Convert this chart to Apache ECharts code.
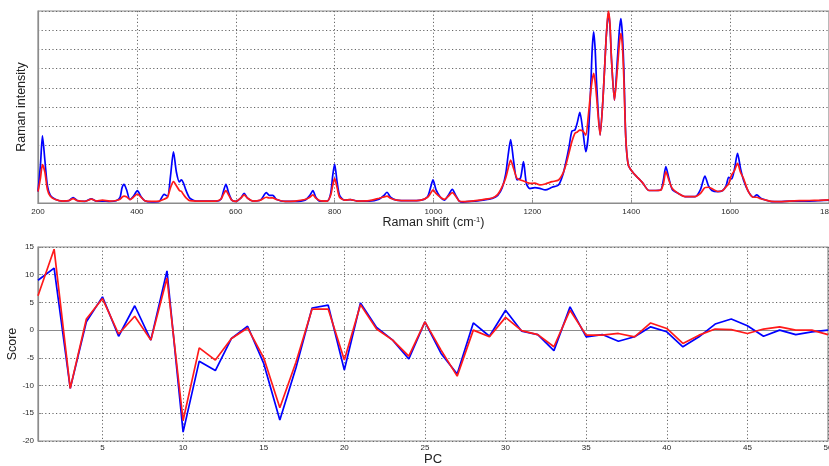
<!DOCTYPE html>
<html>
<head>
<meta charset="utf-8">
<script src="https://cdn.jsdelivr.net/npm/echarts@6/dist/echarts.min.js"></script>
<style>
html,body{margin:0;padding:0;background:#fff;}
#chart{width:829px;height:466px;}
</style>
</head>
<body>
<div id="chart"></div>
<script>
// Raman spectrum (top panel)
const ramanShift = [200,205,209,214,219,225,235,250,262,271,280,295,308,318,330,345,358,366,370,374,379,386,393,401,408,416,430,445,455,462,468,474,480,486,490,494,499,507,520,540,560,570,575,580,586,592,600,610,617,624,635,650,662,668,675,682,700,720,740,750,756,762,770,785,792,796,800,805,810,820,832,845,870,890,900,906,913,925,950,975,988,994,999,1005,1014,1022,1030,1038,1045,1052,1060,1085,1100,1119,1130,1139,1146,1151,1156,1162,1169,1176,1182,1188,1195,1205,1215,1226,1240,1253,1262,1268,1274,1280,1286,1291,1296,1302,1308,1313,1318,1321,1324,1327,1330,1337,1343,1349,1352,1354,1357,1360,1366,1372,1376,1379,1382,1385,1389,1394,1403,1410,1423,1436,1450,1460,1465,1470,1476,1483,1495,1509,1529,1540,1549,1556,1563,1575,1585,1592,1597,1603,1609,1615,1621,1627,1637,1647,1654,1662,1671,1684,1700,1720,1740,1760,1780,1800];
const ramanBlue = [6,20,35,22,9,4,2,1,1.2,2.8,1.2,0.8,2.2,1,1,0.8,1.2,3,8,9.7,7,1.8,3.5,6.4,3.5,1.2,0.6,0.8,4.5,3.5,14,26.7,16,11,12,10.5,6.8,2.5,1,1,1,2,6,9.7,5,1.5,0.8,2.5,5,2.5,1,1.5,5.4,4,4,2,0.8,0.8,1.5,4,6.4,3,1,1,5,14,20.3,11,4,1.5,1.8,1,1,2,4,5.6,3,1.5,1.2,1.5,3.3,8,12,7,3,1.5,4,7.1,4,1,0.5,1,1.5,2.4,4,8,15,25,33,22,12,13,21.5,10,7.5,8,7.6,6.8,8.2,9.4,15,21.5,29,37.5,38,42,47.2,38,26.7,35,60,80,89.2,80,62,35.4,55,85,95,99,92,75,53.6,75,90,96,88,70,33.7,19.8,16,14,10.5,6.5,6.5,6.8,12,18.9,13,7,5,3.3,3.3,7,14,9,6.5,5.9,6.5,9,13.4,12.5,18,25.9,18,12,5.9,3,4.2,2.5,1.6,0.7,0.7,1,1,1,1.2,1.5];
const ramanRed = [6,13,20,16,7,3.5,1.8,1,1.2,2.3,1.2,0.9,2,1,1.5,1,1.3,2,3,3.6,3.2,1.8,3,4.7,3.2,1.2,0.8,1,2,3,8,11.1,9,6.5,6,4.5,2.8,1.2,1,1,1,2,4.5,6.4,4,1.5,0.8,2.5,4.2,2.5,1,1.5,3,2.6,2.7,1.8,0.8,1,1.8,3,4.2,2.5,1.2,1,4,9,12.8,8,3,1.5,1.8,1,1.2,2.5,3.2,3.6,2.5,1.5,1.2,1.5,3,5,6.8,5,3,1.9,3.5,5.4,3.5,1,0.7,1.2,1.8,2.6,4.5,8.5,13,18,22.4,18,12.8,12,11.5,10.8,10.2,10.3,9.4,9.9,11.1,12,15.5,20,26,32,36.3,37,38,37.5,35.4,45,58,64,67.5,63,55,35.4,55,85,96,100,93,75,53.6,70,83,88.4,82,65,33.7,19.8,16,14,10.5,6.5,6.5,6.8,10,16.3,12,7.5,5,3.3,3.3,5,8,8.2,7.5,6,6.5,8.5,10,14.6,17,20.6,16,12.8,5.9,3,3,2.2,1.6,0.8,0.7,1,1.2,1.3,1.4,1.6];

// PCA scores (bottom panel)
const pcLabels = Array.from({length: 50}, (_, i) => String(i + 1));
const scoreBlue = [9.0,11.2,-10.5,1.5,6.0,-1.1,4.4,-1.8,10.7,-18.4,-5.6,-7.3,-1.5,0.7,-6.0,-16.2,-6.8,4.0,4.5,-7.2,4.9,0.5,-1.8,-5.2,1.5,-4.2,-7.9,1.3,-1.1,3.6,-0.2,-0.8,-3.7,4.2,-1.2,-0.8,-2.0,-1.2,0.6,-0.3,-3.0,-1.2,1.1,2.0,0.8,-1.1,0.0,-0.8,-0.3,0.0];
const scoreRed = [6.2,14.6,-10.5,2.0,5.7,-0.7,2.5,-1.8,9.4,-16.3,-3.2,-5.4,-1.5,0.4,-5.0,-14.0,-5.8,3.8,3.8,-5.4,4.6,0.2,-1.8,-4.7,1.5,-3.6,-8.3,0.0,-1.2,2.3,-0.1,-0.8,-3.0,3.6,-0.9,-0.9,-0.6,-1.2,1.3,0.3,-2.4,-0.9,0.2,0.1,-0.6,0.2,0.6,0.0,0.0,-0.8];

const blueC = '#0000ff', redC = '#ff1a1a';
const frameC = '#8c8c8c';
const gridLine = {show: true, lineStyle: {color: '#666', width: 1, type: [1.2, 2.4]}};
const labelStyle = {color: '#2a2a2a', fontSize: 8, fontFamily: 'Liberation Sans, Arial, sans-serif', formatter: v => String(v)};
const nameStyle = {color: '#222', fontSize: 12.5, fontFamily: 'Liberation Sans, Arial, sans-serif'};

const chart = echarts.init(document.getElementById('chart'), null, {renderer: 'canvas'});
chart.setOption({
  animation: false,
  backgroundColor: '#fff',
  grid: [
    {left: 38, top: 11, right: 0, height: 192, outerBoundsMode: 'none', containLabel: false, show: true, borderColor: frameC, borderWidth: 1.2, backgroundColor: 'transparent'},
    {left: 38, top: 247, right: 1, height: 194, outerBoundsMode: 'none', containLabel: false, show: true, borderColor: frameC, borderWidth: 1.2, backgroundColor: 'transparent'}
  ],
  xAxis: [
    {
      type: 'value', gridIndex: 0, min: 200, max: 1800, interval: 200,
      axisLine: {show: true, lineStyle: {color: frameC, width: 1.2}},
      axisTick: {show: true, inside: true, length: 3, lineStyle: {color: frameC}},
      axisLabel: Object.assign({margin: 5}, labelStyle),
      splitLine: gridLine,
      name: 'Raman shift (cm{sup|-1})', nameLocation: 'middle', nameGap: 13, nameMoveOverlap: false,
      nameTextStyle: Object.assign({}, nameStyle, {rich: {sup: {fontSize: 7.5, verticalAlign: 'top', padding: [0, 0, 6, 0], color: '#222'}}})
    },
    {
      type: 'category', gridIndex: 1, data: pcLabels, boundaryGap: false,
      axisLine: {show: true, lineStyle: {color: frameC, width: 1.2}},
      axisTick: {show: true, inside: true, length: 3, alignWithLabel: true, interval: (i, v) => (+v) % 5 === 0, lineStyle: {color: frameC}},
      axisLabel: Object.assign({}, labelStyle, {margin: 3, interval: (i, v) => (+v) % 5 === 0}),
      splitLine: Object.assign({}, gridLine, {interval: (i, v) => (+v) % 5 === 0}),
      name: 'PC', nameLocation: 'middle', nameGap: 12, nameMoveOverlap: false, nameTextStyle: Object.assign({}, nameStyle, {fontSize: 13})
    }
  ],
  yAxis: [
    {
      type: 'value', gridIndex: 0, min: 0, max: 100, interval: 10,
      axisLine: {show: true, lineStyle: {color: frameC, width: 1.2}},
      axisTick: {show: false},
      axisLabel: {show: false},
      splitLine: gridLine,
      name: 'Raman intensity', nameLocation: 'middle', nameGap: 10, nameMoveOverlap: false, nameTextStyle: nameStyle
    },
    {
      type: 'value', gridIndex: 1, min: -20, max: 15, interval: 5,
      axisLine: {show: true, lineStyle: {color: frameC, width: 1.2}},
      axisTick: {show: true, inside: true, length: 3, lineStyle: {color: frameC}},
      axisLabel: Object.assign({margin: 4}, labelStyle),
      splitLine: gridLine,
      name: 'Score', nameLocation: 'middle', nameGap: 19, nameMoveOverlap: false, nameTextStyle: nameStyle
    }
  ],
  series: [
    {type: 'line', xAxisIndex: 0, yAxisIndex: 0, data: ramanShift.map((x, i) => [x, ramanBlue[i]]), showSymbol: false, smooth: 0.25, lineStyle: {color: blueC, width: 1.7}, z: 3},
    {type: 'line', xAxisIndex: 0, yAxisIndex: 0, data: ramanShift.map((x, i) => [x, ramanRed[i]]), showSymbol: false, smooth: 0.25, lineStyle: {color: redC, width: 1.7}, z: 4},
    {type: 'line', xAxisIndex: 1, yAxisIndex: 1, data: scoreBlue, showSymbol: false, lineStyle: {color: blueC, width: 1.7}, z: 3},
    {type: 'line', xAxisIndex: 1, yAxisIndex: 1, data: scoreRed, showSymbol: false, lineStyle: {color: redC, width: 1.7}, z: 4}
  ]
});
</script>
</body>
</html>
